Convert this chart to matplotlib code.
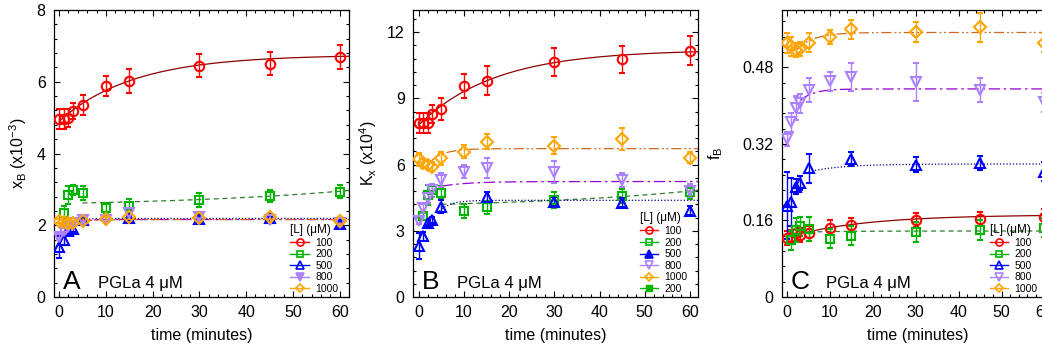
import numpy as np
import matplotlib
matplotlib.use("Agg")
from matplotlib import pyplot as plt
from matplotlib.lines import Line2D
from matplotlib.ticker import MultipleLocator, FuncFormatter

plt.rcParams['font.family'] = ['Liberation Sans', 'DejaVu Sans']
plt.rcParams['mathtext.default'] = 'regular'

# measurement times (minutes)
t_all = [0, 1, 2, 3, 5, 10, 15, 30, 45, 60]
t_200 = [1, 2, 3, 5, 10, 15, 30, 45, 60]
t_500 = [0, 1, 2, 3, 5, 15, 30, 45, 60]

labels = ['100', '200', '500', '800', '1000']

# panel A: x_B (x10^-3)
a_100 = [4.96, 4.96, 5.00, 5.18, 5.35, 5.88, 6.02, 6.45, 6.50, 6.69]
a_100_err = [0.28, 0.28, 0.25, 0.22, 0.28, 0.28, 0.33, 0.33, 0.32, 0.33]
a_200 = [2.35, 2.84, 2.98, 2.90, 2.47, 2.55, 2.70, 2.82, 2.94]
a_200_err = [0.18, 0.25, 0.15, 0.20, 0.15, 0.18, 0.20, 0.17, 0.18]
a_500 = [1.40, 1.58, 1.83, 1.90, 2.16, 2.20, 2.18, 2.20, 2.03]
a_500_err = [0.30, 0.12, 0.10, 0.10, 0.10, 0.08, 0.08, 0.08, 0.08]
a_800 = [1.67, 1.83, 1.95, 2.05, 2.14, 2.16, 2.33, 2.23, 2.14, 2.05]
a_800_err = [0.08] * 10
a_1000 = [2.12, 2.09, 2.06, 2.06, 2.12, 2.17, 2.23, 2.21, 2.23, 2.12]
a_1000_err = [0.05] * 10

# panel B: K_x (x10^4)
b_100 = [7.87, 7.87, 7.90, 8.29, 8.53, 9.56, 9.80, 10.65, 10.77, 11.15]
b_100_err = [0.45, 0.45, 0.45, 0.40, 0.50, 0.55, 0.65, 0.65, 0.62, 0.65]
b_200 = [3.66, 4.62, 4.84, 4.72, 3.90, 4.06, 4.39, 4.57, 4.77]
b_200_err = [0.15, 0.45, 0.30, 0.30, 0.30, 0.30, 0.35, 0.30, 0.35]
b_500 = [2.30, 2.75, 3.36, 3.48, 4.09, 4.51, 4.31, 4.27, 3.90]
b_500_err = [0.60, 0.20, 0.15, 0.15, 0.30, 0.25, 0.20, 0.20, 0.20]
b_800 = [3.45, 4.01, 4.49, 4.84, 5.30, 5.67, 5.83, 5.67, 5.30, 4.81]
b_800_err = [0.15, 0.20, 0.25, 0.30, 0.30, 0.30, 0.45, 0.50, 0.30, 0.30]
b_1000 = [6.23, 6.05, 5.98, 5.90, 6.28, 6.58, 7.04, 6.86, 7.14, 6.31]
b_1000_err = [0.30, 0.20, 0.20, 0.20, 0.30, 0.30, 0.35, 0.40, 0.50, 0.25]

# panel C: f_B
c_100 = [0.124, 0.126, 0.133, 0.129, 0.133, 0.145, 0.150, 0.161, 0.163, 0.168]
c_100_err = [0.015] * 10
c_200 = [0.119, 0.141, 0.148, 0.143, 0.122, 0.128, 0.136, 0.140, 0.145]
c_200_err = [0.020, 0.025, 0.020, 0.025, 0.020, 0.020, 0.020, 0.020, 0.020]
c_500 = [0.191, 0.199, 0.231, 0.239, 0.269, 0.288, 0.277, 0.280, 0.262]
c_500_err = [0.070, 0.050, 0.015, 0.015, 0.030, 0.015, 0.015, 0.015, 0.020]
c_800 = [0.330, 0.365, 0.395, 0.405, 0.433, 0.451, 0.460, 0.449, 0.433, 0.407]
c_800_err = [0.015, 0.020, 0.025, 0.020, 0.025, 0.020, 0.030, 0.040, 0.025, 0.020]
c_1000 = [0.531, 0.524, 0.517, 0.518, 0.532, 0.544, 0.560, 0.554, 0.564, 0.532]
c_1000_err = [0.020, 0.020, 0.015, 0.015, 0.020, 0.015, 0.020, 0.020, 0.030, 0.020]

# fitted kinetics: (t_start, y_start, y_inf, tau)
a_fits = [(0, 4.90, 6.75, 16), (5, 2.62, 2.509, -40), (3, 2.10, 2.19, 2),
          (3, 2.08, 2.16, 2), (5, 2.13, 2.16, 5)]
b_fits = [(0, 7.80, 11.2, 17), (5, 4.20, 3.997, -40), (4, 3.78, 4.38, 2.5),
          (5, 5.02, 5.23, 6), (2, 6.00, 6.72, 3)]
c_fits = [(0, 0.125, 0.172, 18), (5, 0.136, 0.138, 10), (5, 0.262, 0.278, 8),
          (3, 0.410, 0.435, 3), (2, 0.515, 0.553, 4)]

mk_colors = ['#ff0000', '#00b400', '#0000ff', '#ab82ff', '#ffa500']
fit_colors = ['#8b0000', '#2e7d2e', '#00008b', '#9400d3', '#d2691e']
fit_dashes = [None, (4, 3), (1, 1.6), (9, 3, 2, 3), (8, 2.5, 1.5, 2, 1.5, 2.5)]
markers = ['o', 's', '^', 'v', 'D']
msizes = [6.8, 5.8, 7.2, 7.2, 5.8]

panels = [
    dict(times=[t_all, t_200, t_500, t_all, t_all],
         ys=[a_100, a_200, a_500, a_800, a_1000],
         errs=[a_100_err, a_200_err, a_500_err, a_800_err, a_1000_err],
         fits=a_fits, letter='A', ylabel='x$_B$ (x10$^{-3}$)',
         ylim=(0, 8), major=2, xlim=(-1.1, 62),
         pos=[54, 349], ylab_x=-0.085, txt_x=0.15, leg_filled=[3],
         extra=False, leg_anchor=(0.975, 0.0)),
    dict(times=[t_all, t_200, t_500, t_all, t_all],
         ys=[b_100, b_200, b_500, b_800, b_1000],
         errs=[b_100_err, b_200_err, b_500_err, b_800_err, b_1000_err],
         fits=b_fits, letter='B', ylabel='K$_x$ (x10$^{4}$)',
         ylim=(0, 13), major=3, xlim=(-1.3, 61.8),
         pos=[413, 698], ylab_x=-0.119, txt_x=0.155, leg_filled=[2],
         extra=True, leg_anchor=(0.975, 0.0)),
    dict(times=[t_all, t_200, t_500, t_all, t_all],
         ys=[c_100, c_200, c_500, c_800, c_1000],
         errs=[c_100_err, c_200_err, c_500_err, c_800_err, c_1000_err],
         fits=c_fits, letter='C', ylabel='f$_B$',
         ylim=(0, 0.6), major=0.16, xlim=(-1.2, 62),
         pos=[782, 1053], ylab_x=-0.21, txt_x=0.162, leg_filled=[],
         extra=False, leg_anchor=(0.955, 0.0)),
]

W, H = 1042, 349
fig = plt.figure(figsize=(W / 100, H / 100), dpi=100)

for p in panels:
    x0, x1 = p['pos']
    ax = fig.add_axes([x0 / W, (H - 297) / H, (x1 - x0) / W, 287 / H])

    for i in range(5):
        t0, y0, yinf, tau = p['fits'][i]
        tt = np.linspace(t0, 62, 300)
        yy = yinf - (yinf - y0) * np.exp(-(tt - t0) / tau)
        ln, = ax.plot(tt, yy, color=fit_colors[i], lw=0.9, zorder=2)
        if fit_dashes[i] is not None:
            ln.set_dashes(fit_dashes[i])

    for i in range(5):
        ax.errorbar(p['times'][i], p['ys'][i], yerr=p['errs'][i],
                    fmt=markers[i], ms=msizes[i], mfc='none',
                    mec=mk_colors[i], mew=1.5, ecolor=mk_colors[i],
                    elinewidth=1.0, capsize=1.9, capthick=1.0, zorder=3)

    ax.set_xlim(*p['xlim'])
    ax.set_ylim(*p['ylim'])
    ax.xaxis.set_major_locator(MultipleLocator(10))
    ax.xaxis.set_minor_locator(MultipleLocator(2))
    ax.yaxis.set_major_locator(MultipleLocator(p['major']))
    ax.yaxis.set_minor_locator(MultipleLocator(p['major'] / 5))
    ax.yaxis.set_major_formatter(FuncFormatter(lambda v, pos: '%g' % round(v, 4)))
    ax.tick_params(which='both', direction='in', top=True, right=True,
                   width=0.8, labelsize=11.5)
    ax.tick_params(which='major', length=4.5)
    ax.tick_params(which='minor', length=2.3)
    ax.tick_params(axis='y', pad=6)
    ax.tick_params(axis='x', pad=5.5)
    for s in ax.spines.values():
        s.set_linewidth(0.9)

    ax.set_xlabel('time (minutes)', fontsize=11.5, labelpad=6)
    ax.set_ylabel(p['ylabel'], fontsize=11.5)
    ax.yaxis.set_label_coords(p['ylab_x'], 0.5)

    ax.text(0.03, 0.027, p['letter'], transform=ax.transAxes, fontsize=19,
            va='baseline', ha='left')
    ax.text(p['txt_x'], 0.031, 'PGLa 4 \u03bcM', transform=ax.transAxes,
            fontsize=12, va='baseline', ha='left')

    handles = []
    for i in range(5):
        fc = mk_colors[i] if i in p['leg_filled'] else 'none'
        handles.append(Line2D([], [], color=mk_colors[i], lw=1.0,
                              marker=markers[i], ms=msizes[i] * 0.75,
                              mfc=fc, mec=mk_colors[i], mew=1.2))
    leg_labels = list(labels)
    if p['extra']:
        handles.append(Line2D([], [], color=mk_colors[1], lw=1.0, marker='s',
                              ms=msizes[1] * 0.8, mfc=mk_colors[1],
                              mec=mk_colors[1]))
        leg_labels.append('200')
    leg = ax.legend(handles, leg_labels, loc='lower right',
                    bbox_to_anchor=p['leg_anchor'], frameon=False,
                    fontsize=7.5, title='[L] (\u03bcM)', title_fontsize=8.5,
                    handlelength=1.8, handletextpad=0.6, labelspacing=0.15,
                    borderpad=0.1, borderaxespad=0.2)
    leg._legend_box.align = 'left'

fig.savefig('out.png', dpi=100)
